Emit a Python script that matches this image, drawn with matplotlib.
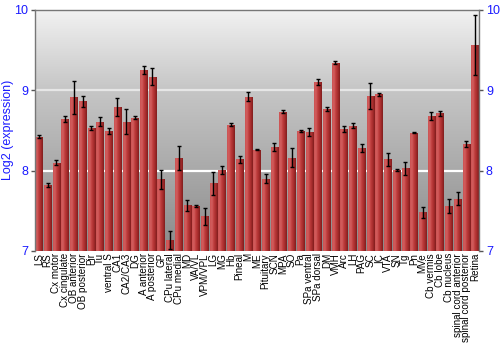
import numpy as np
import matplotlib
matplotlib.use('Agg')
import matplotlib.pyplot as plt
from matplotlib.colors import LinearSegmentedColormap

regions = ['LS', 'RS', 'Cx motor', 'Cx cingulate', 'OB anterior', 'OB posterior',
           'Pir', 'Tu', 'ventral S', 'CA1', 'CA2/CA3', 'DG', 'A anterior',
           'A posterior', 'GP', 'CPu lateral', 'CPu medial', 'MD', 'VA/VL',
           'VPM/VPL', 'LG', 'MG', 'Hb', 'Pineal', 'M', 'ME', 'Pituitary', 'SCN',
           'MPA', 'SO', 'Pa', 'SPa ventral', 'SPa dorsal', 'DM', 'VMH', 'Arc',
           'LH', 'PAG', 'SC', 'IC', 'VTA', 'SN', 'Tg', 'Pn', 'MVe', 'Cb vermis',
           'Cb lobe', 'Cb nucleus', 'spinal cord anterior',
           'spinal cord posterior', 'Retina']
expression = [8.42, 7.82, 8.10, 8.64, 8.91, 8.86, 8.53, 8.61, 8.49, 8.79, 8.61,
              8.66, 9.25, 9.17, 7.89, 7.14, 8.16, 7.57, 7.56, 7.43, 7.84, 8.01,
              8.57, 8.14, 8.92, 8.26, 7.90, 8.29, 8.73, 8.16, 8.49, 8.48, 9.10,
              8.76, 9.34, 8.52, 8.56, 8.28, 8.93, 8.95, 8.14, 8.01, 8.03, 8.47,
              7.48, 8.68, 8.71, 7.56, 7.65, 8.33, 9.56]
error = [0.02, 0.02, 0.03, 0.035, 0.21, 0.07, 0.025, 0.06, 0.04, 0.11, 0.15,
         0.015, 0.05, 0.10, 0.12, 0.11, 0.15, 0.07, 0.012, 0.11, 0.14, 0.05,
         0.02, 0.04, 0.06, 0.01, 0.06, 0.05, 0.02, 0.12, 0.01, 0.05, 0.04,
         0.025, 0.02, 0.04, 0.03, 0.055, 0.16, 0.02, 0.08, 0.01, 0.08, 0.005,
         0.07, 0.05, 0.03, 0.09, 0.08, 0.035, 0.37]

BLUE = '#1a1aff'
FONT = ['Liberation Sans', 'DejaVu Sans']
YMIN, YMAX = 7, 10

fig = plt.figure(figsize=(5, 3.5), dpi=100)
ax = fig.add_axes([0.07, 0.283, 0.888, 0.689])

x = np.arange(len(regions))
xlim = (-0.46, len(regions) - 0.54)
ax.set_xlim(*xlim)
ax.set_ylim(YMIN, YMAX)

# background gradient, light at top, darker toward the bottom
bg = LinearSegmentedColormap.from_list(
    'bg', [(0.0, '#8a8a8a'), (0.33, '#a9a9a9'), (0.67, '#c6c6c6'), (1.0, '#f2f2f2')])
ax.imshow(np.linspace(0, 1, 256).reshape(-1, 1), cmap=bg, aspect='auto',
          origin='lower', extent=(*xlim, YMIN, YMAX), zorder=0)
for yv, c in [(8, '#ffffff'), (9, '#e6e6e6')]:
    ax.axhline(yv, color=c, linewidth=1.6, zorder=1)

bars = ax.bar(x, [v - YMIN for v in expression], bottom=YMIN, width=0.85,
              color='#b93838', edgecolor='none', zorder=2)

# horizontal shading on each bar
shade = LinearSegmentedColormap.from_list(
    'shade', ['#cc5353', '#d25d5d', '#bd3b3b', '#a52c2c', '#801d1d'])
grad = np.linspace(0, 1, 64).reshape(1, -1)
for b in bars:
    bx, by = b.get_x(), b.get_y()
    im = ax.imshow(grad, cmap=shade, aspect='auto',
                   extent=(bx, bx + b.get_width(), by, by + b.get_height()),
                   zorder=2.5)
    im.set_clip_path(b)

ax.errorbar(x, expression, yerr=error, fmt='none', ecolor='black',
            elinewidth=1, capsize=1.6, capthick=1, zorder=3)

ax.set_xlim(*xlim)
ax.set_ylim(YMIN, YMAX)

ax.set_yticks([7, 8, 9, 10])
ax.tick_params(axis='y', which='both', left=True, right=True, labelleft=True,
               labelright=True, labelsize=9, labelcolor=BLUE, color='#555555',
               length=3, width=1, pad=2)
ax.set_xticks(x)
ax.set_xticklabels(regions, rotation=90, fontsize=7.1, family=FONT)
ax.tick_params(axis='x', length=0, pad=1.5)
for lab in ax.get_yticklabels():
    lab.set_family(FONT)
ax.set_ylabel('Log2 (expression)', color=BLUE, fontsize=9, family=FONT,
              labelpad=0)

for side in ['left', 'right', 'top']:
    ax.spines[side].set_color('#777777')
    ax.spines[side].set_linewidth(1)
ax.spines['bottom'].set_visible(False)

fig.savefig('out.png', dpi=100)
